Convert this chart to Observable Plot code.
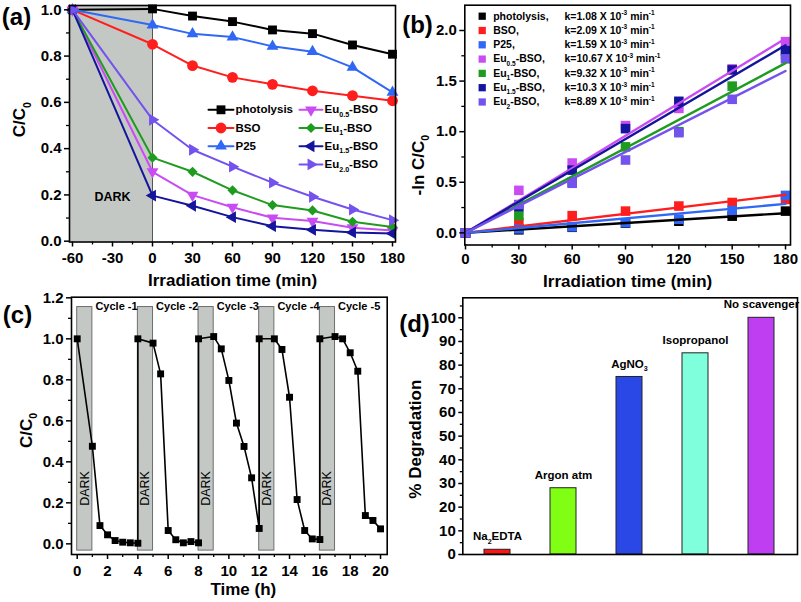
<!DOCTYPE html>
<html>
<head>
<meta charset="utf-8">
<script src="https://cdn.jsdelivr.net/npm/d3@7"></script>
<script src="https://cdn.jsdelivr.net/npm/@observablehq/plot@0.6"></script>
<style>
  html, body { margin: 0; padding: 0; background: #fff; }
  #fig { position: relative; width: 801px; height: 602px; overflow: hidden; background: #fff; }
</style>
</head>
<body>
<div id="fig"></div>
<script>
// ===================== DATA =====================
// (a) degradation vs irradiation time
const irradiationTime = [-60, 0, 30, 60, 90, 120, 150, 180];
const sampleNames  = ["photolysis", "BSO", "P25", "Eu_{0.5}-BSO", "Eu_{1}-BSO", "Eu_{1.5}-BSO", "Eu_{2.0}-BSO"];
const sampleColors = ["#000000", "#ff1e1e", "#3068f5", "#c94cf2", "#1f9c1f", "#14149c", "#7352ee"];
const photolysis = [1.00, 1.004, 0.973, 0.949, 0.913, 0.897, 0.848, 0.808];
const bso        = [1.00, 0.851, 0.759, 0.708, 0.678, 0.650, 0.629, 0.607];
const p25        = [1.00, 0.934, 0.896, 0.882, 0.842, 0.819, 0.751, 0.643];
const eu05       = [1.00, 0.300, 0.199, 0.147, 0.101, 0.087, 0.058, 0.046];
const eu1        = [1.00, 0.361, 0.300, 0.220, 0.156, 0.133, 0.084, 0.061];
const eu15       = [1.00, 0.197, 0.153, 0.104, 0.065, 0.049, 0.038, 0.033];
const eu20       = [1.00, 0.525, 0.395, 0.322, 0.253, 0.192, 0.137, 0.091];
const darkInterval = [-60, 0];

// (b) -ln(C/C0) kinetics
const kineticTime  = [0, 30, 60, 90, 120, 150, 180];
const kineticNames = ["photolysis,", "BSO,", "P25,", "Eu_{0.5}-BSO,", "Eu_{1}-BSO,", "Eu_{1.5}-BSO,", "Eu_{2}-BSO,"];
const lnPhotolysis = [0, 0.030, 0.055, 0.095, 0.115, 0.165, 0.215];
const lnBso        = [0, 0.100, 0.170, 0.215, 0.265, 0.300, 0.330];
const lnP25        = [0, 0.040, 0.060, 0.100, 0.135, 0.220, 0.370];
const lnEu05       = [0, 0.420, 0.690, 1.060, 1.230, 1.620, 1.890];
const lnEu1        = [0, 0.170, 0.500, 0.850, 1.000, 1.450, 1.760];
const lnEu15       = [0, 0.260, 0.620, 1.030, 1.300, 1.610, 1.800];
const lnEu2        = [0, 0.280, 0.490, 0.720, 0.990, 1.320, 1.720];
const rateConstants = ["1.08", "2.09", "1.59", "10.67", "9.32", "10.3", "8.89"]; // x 10^-3 min^-1
const fitSpan = [0, 180];

// (c) recycling
const cycleStart  = [0, 4, 8, 12, 16];
const cycleOffset = [0, 1, 1.5, 2, 2.5, 3, 3.5, 4];
const cycle1 = [1.000, 0.476, 0.089, 0.044, 0.016, 0.008, 0.005, 0.003];
const cycle2 = [1.000, 0.979, 0.829, 0.065, 0.020, 0.005, 0.011, 0.005];
const cycle3 = [1.000, 1.011, 0.951, 0.797, 0.589, 0.475, 0.322, 0.075];
const cycle4 = [1.000, 1.000, 0.948, 0.715, 0.216, 0.065, 0.024, 0.021];
const cycle5 = [1.000, 1.011, 1.000, 0.932, 0.842, 0.138, 0.114, 0.073];
const cycleLabels = ["Cycle -1", "Cycle -2", "Cycle -3", "Cycle -4", "Cycle -5"];
const darkHours = 1;

// (d) scavengers
const scavengers      = ["Na_{2}EDTA", "Argon atm", "AgNO_{3}", "Isopropanol", "No scavenger"];
const degradation     = [2, 28, 75, 85, 100];
const scavengerColors = ["#ff1414", "#80ff14", "#2a48e6", "#80ffdc", "#c03ef2"];

// ===================== HELPERS =====================
const fig = document.getElementById("fig");
const baseStyle = {
  fontFamily: '"Liberation Sans", Arial, Helvetica, sans-serif',
  fontSize: "15px", fontWeight: "bold", color: "#000",
  background: "transparent", overflow: "visible"
};
const S3 = Math.sqrt(3);
function tri(dir) {
  const rot = {up: 0, down: Math.PI, left: -Math.PI / 2, right: Math.PI / 2}[dir];
  return {draw(ctx, size) {
    const y = Math.sqrt(size / (S3 * 3));
    const pts = [[0, -2 * y], [-S3 * y, y], [S3 * y, y]].map(([a, b]) =>
      [a * Math.cos(rot) - b * Math.sin(rot), a * Math.sin(rot) + b * Math.cos(rot)]);
    ctx.moveTo(pts[0][0], pts[0][1]); ctx.lineTo(pts[1][0], pts[1][1]); ctx.lineTo(pts[2][0], pts[2][1]); ctx.closePath();
  }};
}
function inv(P) {
  return {
    x: d3.scaleLinear(P.x, [P.m.left, P.W - P.m.right]),
    y: d3.scaleLinear(P.y, [P.H - P.m.bottom, P.m.top])
  };
}
function base(P, extra) {
  return Object.assign({
    width: P.W, height: P.H,
    marginTop: P.m.top, marginRight: P.m.right, marginBottom: P.m.bottom, marginLeft: P.m.left,
    style: baseStyle
  }, extra);
}
function label(str, o) {
  return Plot.text([str], Object.assign({text: d => d, fontWeight: "bold", lineAnchor: "middle", textAnchor: "middle"}, o));
}
function axes(xMaj, xMin, xFmt, yMaj, yMin, yFmt, xPad) {
  return [
    Plot.axisX(xMaj, {tickSize: 5, tickPadding: xPad, tickFormat: xFmt, strokeWidth: 1.5}),
    Plot.axisX(xMin, {tickSize: 3, fill: "none", strokeWidth: 1.3}),
    Plot.axisY(yMaj, {tickSize: 5, tickPadding: 3, tickFormat: yFmt, strokeWidth: 1.5}),
    Plot.axisY(yMin, {tickSize: 3, fill: "none", strokeWidth: 1.3})
  ];
}
function richText(root) {
  root.querySelectorAll("text").forEach(t => {
    const s = t.textContent;
    if (!/[_^]\{/.test(s)) return;
    const parts = s.split(/([_^]\{[^}]*\})/).filter(p => p !== "");
    while (t.firstChild) t.removeChild(t.firstChild);
    let shift = 0;
    for (const p of parts) {
      const ts = document.createElementNS("http://www.w3.org/2000/svg", "tspan");
      let target = 0, small = false, txt = p;
      if (p.startsWith("_{")) { target = 0.3; small = true; txt = p.slice(2, -1); }
      else if (p.startsWith("^{")) { target = -0.42; small = true; txt = p.slice(2, -1); }
      const delta = target - shift;
      if (small) {
        ts.setAttribute("font-size", "62%");
        if (delta) ts.setAttribute("dy", (delta / 0.62).toFixed(3) + "em");
      } else if (delta) ts.setAttribute("dy", delta.toFixed(3) + "em");
      shift = target;
      ts.textContent = txt;
      t.appendChild(ts);
    }
  });
}
function place(svg, left, top) {
  svg.style.position = "absolute";
  svg.style.left = left + "px";
  svg.style.top = top + "px";
  fig.appendChild(svg);
  richText(svg);
}
const fmt1 = d3.format(".1f");
const fmtInt = d => String(d);

// ===================== PANEL (a) =====================
{
  const A = {W: 400, H: 300, m: {top: 5, right: 5, bottom: 58.5, left: 69}, x: [-62.25, 182.25], y: [-0.0035, 1.0186]};
  const ai = inv(A);
  const series = [photolysis, bso, p25, eu05, eu1, eu15, eu20];
  const symbols = ["square", "circle", tri("up"), tri("down"), "diamond2", tri("left"), tri("right")];
  const radius = [5, 5.4, 4.4, 4.4, 4.6, 4.4, 4.4];
  const marks = [
    Plot.rect([darkInterval], {x1: A.x[0], x2: d => d[1], fill: "#c4c8c4"}),
    Plot.ruleX([darkInterval[1]], {stroke: "#555", strokeWidth: 1}),
    Plot.text([darkInterval], {x: d => (d[0] + d[1]) / 2, y: 0.19, text: () => "DARK", fontSize: 12.5, fontWeight: "bold"})
  ];
  series.forEach((vals, s) => {
    const rows = irradiationTime.map((t, i) => ({t, v: vals[i]}));
    marks.push(Plot.line(rows, {x: "t", y: "v", stroke: sampleColors[s], strokeWidth: 2}));
    marks.push(Plot.dot(rows, {x: "t", y: "v", symbol: symbols[s], r: radius[s], fill: sampleColors[s]}));
  });
  // legend
  sampleNames.forEach((name, i) => {
    const col = i < 3 ? 0 : 1, row = i < 3 ? i : i - 3;
    const lx = col ? [299, 322] : [208, 233];
    const y = ai.y.invert(109.3 + row * 18.2);
    const x1 = ai.x.invert(lx[0]), x2 = ai.x.invert(lx[1]), xm = ai.x.invert((lx[0] + lx[1]) / 2);
    marks.push(Plot.line([[x1, y], [x2, y]], {stroke: sampleColors[i], strokeWidth: 2}));
    marks.push(Plot.dot([[xm, y]], {symbol: symbols[i], r: radius[i], fill: sampleColors[i]}));
    marks.push(Plot.text([name], {x: ai.x.invert(lx[1] + 2), y, text: d => d, textAnchor: "start", fontSize: 11.5, fontWeight: "bold"}));
  });
  marks.push(...axes([-60, -30, 0, 30, 60, 90, 120, 150, 180], [-45, -15, 15, 45, 75, 105, 135, 165], fmtInt,
                     [0, 0.2, 0.4, 0.6, 0.8, 1.0], [0.1, 0.3, 0.5, 0.7, 0.9], fmt1, 5.5));
  marks.push(Plot.frame({stroke: "#000", strokeWidth: 1.6}));
  marks.push(label("Irradiation time (min)", {frameAnchor: "bottom", dy: 38.5, fontSize: 17}));
  marks.push(label("C/C_{0}", {frameAnchor: "left", dx: -49.5, dy: -4, rotate: -90, fontSize: 17}));
  marks.push(label("(a)", {frameAnchor: "top-left", dx: -53, dy: 12, fontSize: 24}));
  place(Plot.plot(base(A, {x: {domain: A.x, label: null}, y: {domain: A.y, label: null}, marks})), 0, 0);
}

// ===================== PANEL (b) =====================
{
  const B = {W: 401, H: 300, m: {top: 4.7, right: 11, bottom: 55.5, left: 64.3}, x: [-0.4, 182.8], y: [-0.12, 2.25]};
  const bi = inv(B);
  const series = [lnPhotolysis, lnBso, lnP25, lnEu05, lnEu1, lnEu15, lnEu2];
  const marks = [];
  series.forEach((vals, s) => {
    const rows = kineticTime.map((t, i) => ({t, v: vals[i]}));
    marks.push(Plot.dot(rows, {x: "t", y: "v", symbol: "square", r: 5.4, fill: sampleColors[s]}));
  });
  series.forEach((vals, s) => {
    const k = parseFloat(rateConstants[s]) * 1e-3;
    const fit = fitSpan.map(t => ({t, v: k * t}));
    marks.push(Plot.line(fit, {x: "t", y: "v", stroke: sampleColors[s], strokeWidth: 2.4}));
  });
  kineticNames.forEach((name, i) => {
    const y = bi.y.invert(15.7 + i * 14.3);
    marks.push(Plot.dot([[bi.x.invert(81.7), y]], {symbol: "square", r: 4.1, fill: sampleColors[i]}));
    marks.push(Plot.text([name], {x: bi.x.invert(92.7), y, text: d => d, textAnchor: "start", fontSize: 10.5, fontWeight: "bold"}));
    marks.push(Plot.text([rateConstants[i]], {x: bi.x.invert(164), y, text: d => `k=${d} X 10^{-3} min^{-1}`, textAnchor: "start", fontSize: 10.5, fontWeight: "bold"}));
  });
  marks.push(...axes([0, 30, 60, 90, 120, 150, 180], [15, 45, 75, 105, 135, 165], fmtInt,
                     [0, 0.5, 1.0, 1.5, 2.0], [0.25, 0.75, 1.25, 1.75], fmt1, 3.5));
  marks.push(Plot.frame({stroke: "#000", strokeWidth: 1.6}));
  marks.push(label("Irradiation time (min)", {frameAnchor: "bottom", dy: 36.5, fontSize: 17}));
  marks.push(label("-ln C/C_{0}", {frameAnchor: "left", dx: -46, dy: 40, rotate: -90, fontSize: 17}));
  marks.push(label("(b)", {frameAnchor: "top-left", dx: -47.3, dy: 20.3, fontSize: 24}));
  place(Plot.plot(base(B, {x: {domain: B.x, label: null}, y: {domain: B.y, label: null}, marks})), 400, 0);
}

// ===================== PANEL (c) =====================
{
  const C = {W: 400, H: 317, m: {top: 11.7, right: 13.3, bottom: 48, left: 71}, x: [-0.376, 20.44], y: [-0.052, 1.203]};
  const ci = inv(C);
  const cycles = [cycle1, cycle2, cycle3, cycle4, cycle5];
  const rows = cycleStart.flatMap((t0, c) => cycleOffset.map((o, i) => ({t: t0 + o, v: cycles[c][i]})));
  const marks = [
    Plot.rect(cycleStart, {x1: d => d, x2: d => d + darkHours, y1: -0.033, y2: 1.155, fill: "#c4c8c4", stroke: "#6e6e6e", strokeWidth: 1}),
    Plot.text(cycleStart, {x: d => d + darkHours / 2, y: 0.27, text: () => "DARK", rotate: -90, fontSize: 12.5, fontWeight: "normal"}),
    Plot.text(cycleStart, {x: d => d + darkHours + 0.2, y: ci.y.invert(21), text: (d, i) => cycleLabels[i], textAnchor: "start", fontSize: 11, fontWeight: "bold"}),
    Plot.line(rows, {x: "t", y: "v", stroke: "#000", strokeWidth: 1.6}),
    Plot.dot(rows, {x: "t", y: "v", symbol: "square", r: 3.9, fill: "#000"}),
    ...axes([0, 2, 4, 6, 8, 10, 12, 14, 16, 18, 20], [1, 3, 5, 7, 9, 11, 13, 15, 17, 19], fmtInt,
            [0, 0.2, 0.4, 0.6, 0.8, 1.0, 1.2], [0.1, 0.3, 0.5, 0.7, 0.9, 1.1], fmt1, 5.5),
    Plot.frame({stroke: "#000", strokeWidth: 1.6}),
    label("Time (h)", {frameAnchor: "bottom", dx: 14, dy: 35, fontSize: 17}),
    label("C/C_{0}", {frameAnchor: "left", dx: -45, dy: 4.6, rotate: -90, fontSize: 17}),
    label("(c)", {frameAnchor: "top-left", dx: -54, dy: 18.3, fontSize: 24})
  ];
  place(Plot.plot(base(C, {x: {domain: C.x, label: null}, y: {domain: C.y, label: null}, marks})), 0, 285);
}

// ===================== PANEL (d) =====================
{
  const D = {W: 401, H: 317, m: {top: 12.3, right: 4, bottom: 48, left: 62.3}, y: [0, 108.45]};
  const rows = scavengers.map((name, i) => ({name, value: degradation[i], color: scavengerColors[i]}));
  const marks = [
    Plot.barY(rows, {x: "name", y: "value", fill: "color", stroke: "#222", strokeWidth: 1}),
    Plot.text(rows, {x: "name", y: "value", text: "name", dy: -13, fontSize: 11.5, fontWeight: "bold"}),
    Plot.axisY([0, 10, 20, 30, 40, 50, 60, 70, 80, 90, 100], {tickSize: 4, tickPadding: 3, tickFormat: fmtInt, strokeWidth: 1.5}),
    Plot.axisY([5, 15, 25, 35, 45, 55, 65, 75, 85, 95, 105], {tickSize: 2.5, fill: "none", strokeWidth: 1.3}),
    Plot.frame({stroke: "#000", strokeWidth: 1.6}),
    label("% Degradation", {frameAnchor: "left", dx: -47, dy: 13, rotate: -90, fontSize: 17}),
    label("(d)", {frameAnchor: "top-left", dx: -48.3, dy: 26.7, fontSize: 24})
  ];
  place(Plot.plot(base(D, {
    x: {domain: scavengers, paddingInner: 0.6, paddingOuter: 0.3, axis: null, label: null},
    y: {domain: D.y, label: null},
    color: {type: "identity"},
    marks
  })), 400, 285);
}
</script>
</body>
</html>
